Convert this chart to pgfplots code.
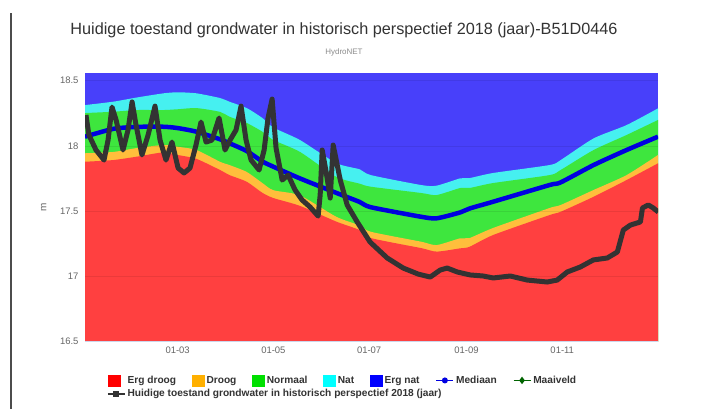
\documentclass[border=0pt]{standalone}
\usepackage{pgfplots}
\pgfplotsset{compat=1.18}
\usepackage{pgfplotstable}
\usepackage{fontspec}
\setmainfont{Liberation Sans}
\definecolor{cRed}{RGB}{255,64,64}
\definecolor{cOra}{RGB}{255,190,60}
\definecolor{cGre}{RGB}{62,230,62}
\definecolor{cCya}{RGB}{70,240,240}
\definecolor{cBlu}{RGB}{72,64,250}
\definecolor{lRed}{RGB}{255,0,0}
\definecolor{lOra}{RGB}{255,176,0}
\definecolor{lGre}{RGB}{0,224,0}
\definecolor{lCya}{RGB}{0,255,255}
\definecolor{lBlu}{RGB}{0,0,255}
\definecolor{medBlue}{RGB}{0,0,225}
\definecolor{maaiv}{RGB}{0,100,0}
\definecolor{blk}{RGB}{51,51,51}
\definecolor{txt}{RGB}{51,51,51}
\definecolor{tickgray}{RGB}{102,102,102}
\definecolor{subgray}{RGB}{140,140,140}
\definecolor{axisgray}{RGB}{204,214,235}
\newcommand{\gap}{\rule{14bp}{0pt}}

\pgfplotstableread{
day red orange green cyan median
0 17.878 17.943 18.251 18.312 18.07
18 17.891 17.953 18.261 18.338 18.13
33 17.917 17.983 18.274 18.370 18.145
50 17.950 18.006 18.274 18.402 18.146
59 17.930 17.993 18.280 18.410 18.136
71 17.900 17.968 18.289 18.402 18.108
86 17.815 17.878 18.260 18.366 18.05
92 17.776 17.853 18.223 18.338 18.02
103 17.725 17.800 18.175 18.289 17.96
113 17.640 17.715 18.108 18.213 17.88
120 17.600 17.660 18.044 18.140 17.84
137 17.540 17.620 17.953 18.044 17.75
160 17.420 17.457 17.763 17.868 17.64
175 17.355 17.390 17.710 17.820 17.57
182 17.294 17.342 17.687 17.776 17.53
214 17.217 17.266 17.639 17.700 17.457
224 17.190 17.240 17.623 17.695 17.445
239 17.215 17.292 17.677 17.751 17.49
245 17.227 17.294 17.677 17.753 17.52
260 17.317 17.371 17.715 17.792 17.572
296 17.470 17.524 17.776 17.853 17.70
303 17.495 17.547 17.815 17.891 17.72
324 17.610 17.662 17.968 18.057 17.853
345 17.738 17.776 18.083 18.159 17.968
365 17.866 17.930 18.198 18.287 18.07
}\bands

\pgfplotstableread{
day level
0.6 18.236
2.5 18.083
7.0 17.968
12.1 17.891
14.7 18.044
17.2 18.297
19.8 18.198
24.2 17.968
27.4 18.121
30.0 18.336
32.5 18.159
36.3 17.930
40.2 18.083
44.6 18.304
47.8 18.044
51.6 17.891
55.4 18.029
59.3 17.830
63.1 17.792
66.9 17.830
70.7 18.006
73.9 18.182
77.1 18.029
80.9 18.044
85.4 18.213
89.2 17.968
92.4 18.044
96.2 18.121
99.4 18.304
102.6 18.044
105.8 17.891
110.9 17.815
114.1 17.968
116.6 18.213
119.2 18.358
121.7 17.983
125.6 17.738
129.4 17.776
133.8 17.662
138.3 17.585
143.4 17.531
148.5 17.462
149.8 17.623
151.1 17.968
153.6 17.800
156.2 17.600
158.1 18.006
162.6 17.738
167.0 17.547
173.4 17.417
181.6 17.263
192.5 17.141
202.7 17.064
212.2 17.018
219.9 16.995
226.3 17.049
230.7 17.064
237.1 17.034
245.4 17.011
253.7 17.003
260.0 16.988
270.9 17.003
281.7 16.972
294.5 16.957
300.8 16.972
307.2 17.034
315.5 17.072
323.8 17.126
332.7 17.141
339.1 17.187
342.9 17.355
347.4 17.393
353.8 17.417
355.1 17.524
358.8 17.547
362.0 17.524
365.2 17.493
}\current

\begin{document}
\begin{tikzpicture}
\path[use as bounding box, fill=white] (0bp,0bp) rectangle (701bp,409bp);
\draw[black!70, line width=1.5bp] (11bp,0bp) -- (11bp,396bp);
\node[text=txt, font=\fontsize{16.3}{18}\selectfont] at (344bp,379bp) {Huidige toestand grondwater in historisch perspectief 2018 (jaar)-B51D0446};
\node[text=subgray, font=\fontsize{8}{9}\selectfont] at (344bp,357bp) {HydroNET};
\begin{axis}[
  at={(85bp,67.3bp)}, anchor=south west,
  scale only axis, width=573bp, height=269bp,
  xmin=0, xmax=365, ymin=16.5, ymax=18.56,
  xtick={59,120,181,243,304},
  xticklabels={01-03,01-05,01-07,01-09,01-11},
  ytick={16.5,17,17.5,18,18.5},
  yticklabels={16.5,17,17.5,18,18.5},
  axis x line*=bottom, axis y line*=left,
  y axis line style={draw=none},
  x axis line style={draw=axisgray, line width=0.8bp},
  tick style={draw=none},
  ymajorgrids, major grid style={black, opacity=0.08, line width=0.6bp},
  axis on top,
  tick label style={font=\fontsize{9.5}{11}\selectfont, text=tickgray},
  xticklabel style={yshift=-2bp},
  yticklabel style={xshift=-3bp},
  ylabel={m},
  ylabel style={at={(axis description cs:-0.072,0.5)}, anchor=center, font=\fontsize{10}{12}\selectfont, text=tickgray},
  legend columns=7,
  legend cell align=left,
  legend style={at={(0.033,-0.112)}, anchor=north west, draw=none, fill=none,
    font=\fontsize{10.2}{11.5}\selectfont\bfseries, text=txt,
    row sep=0.5bp},
]
\addplot[fill=cBlu, draw=none, forget plot] coordinates {(0,18.56) (365,18.56)} \closedcycle;
\addplot[fill=cCya, draw=none, forget plot, smooth, tension=0.4] table[x=day, y=cyan] {\bands} \closedcycle;
\addplot[fill=cGre, draw=none, forget plot, smooth, tension=0.4] table[x=day, y=green] {\bands} \closedcycle;
\addplot[fill=cOra, draw=none, forget plot, smooth, tension=0.4] table[x=day, y=orange] {\bands} \closedcycle;
\addplot[fill=cRed, draw=none, forget plot, smooth, tension=0.4] table[x=day, y=red] {\bands} \closedcycle;
\addplot[medBlue, line width=4.5bp, forget plot, smooth, tension=0.4] table[x=day, y=median] {\bands};
\addplot[blk, line width=5bp, line join=round, forget plot] table[x=day, y=level] {\current};

\addlegendimage{legend image code/.code={\fill[lRed] (0bp,-5.5bp) rectangle (12bp,5.5bp);}}
\addlegendentry{Erg droog\gap}
\addlegendimage{legend image code/.code={\fill[lOra] (0bp,-5.5bp) rectangle (12bp,5.5bp);}}
\addlegendentry{Droog\gap}
\addlegendimage{legend image code/.code={\fill[lGre] (0bp,-5.5bp) rectangle (12bp,5.5bp);}}
\addlegendentry{Normaal\gap}
\addlegendimage{legend image code/.code={\fill[lCya] (0bp,-5.5bp) rectangle (12bp,5.5bp);}}
\addlegendentry{Nat\gap}
\addlegendimage{legend image code/.code={\fill[lBlu] (0bp,-5.5bp) rectangle (12bp,5.5bp);}}
\addlegendentry{Erg nat\gap}
\addlegendimage{medBlue, line width=1.5bp, mark=*, mark size=2.2bp}
\addlegendentry{Mediaan\gap}
\addlegendimage{maaiv, line width=1.5bp, mark=diamond*, mark size=2.5bp}
\addlegendentry{Maaiveld}
\addlegendimage{blk, line width=1.5bp, mark=square*, mark size=2.2bp}
\addlegendentry{\makebox[0pt][l]{Huidige toestand grondwater in historisch perspectief 2018 (jaar)}}
\end{axis}
\end{tikzpicture}
\end{document}
